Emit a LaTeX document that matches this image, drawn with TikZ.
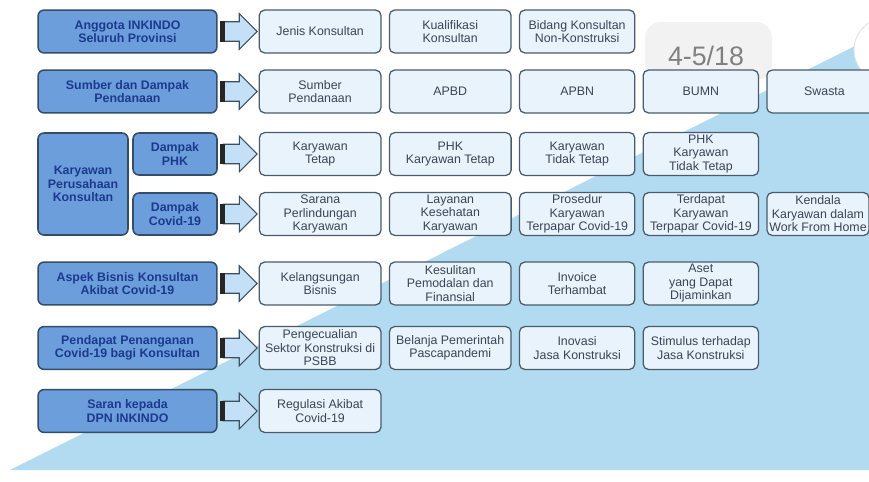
\documentclass[tikz,border=0pt]{standalone}
\usepackage{fontspec}
\setmainfont{Liberation Sans}
\usetikzlibrary{positioning, shapes.arrows}

\definecolor{latar}{RGB}{178,218,240}
\definecolor{isiinduk}{RGB}{108,158,220}
\definecolor{garisinduk}{RGB}{52,78,104}
\definecolor{teksinduk}{RGB}{28,58,140}
\definecolor{isibutir}{RGB}{233,243,251}
\definecolor{garisbutir}{RGB}{74,92,108}
\definecolor{teksbutir}{RGB}{58,68,84}
\definecolor{isipanah}{RGB}{196,224,246}
\definecolor{garispanah}{RGB}{62,80,98}
\definecolor{abu}{RGB}{128,128,128}
\definecolor{abumuda}{RGB}{242,242,242}

\begin{document}
\begin{tikzpicture}[x=0.025cm, y=-0.025cm, node distance=0.18cm,
  induk/.style={draw=garisinduk, line width=1.1pt, fill=isiinduk, rounded corners=0.15cm,
    align=center, text=teksinduk, font=\fontsize{8.8}{9.6}\selectfont\bfseries,
    minimum width=4.47cm, minimum height=1.07cm, inner sep=1pt},
  kecil/.style={induk, minimum width=2.1cm, minimum height=1.05cm},
  butir/.style={draw=garisbutir, line width=0.9pt, fill=isibutir, rounded corners=0.13cm,
    align=center, text=teksbutir, font=\fontsize{8.8}{9.6}\selectfont,
    minimum width=2.88cm, minimum height=1.07cm, inner sep=1pt},
  lebar/.style={minimum width=3.04cm},
  panah/.style={single arrow, draw=garispanah, fill=isipanah, line width=0.8pt,
    single arrow head extend=0.2cm, minimum height=0.85cm, inner xsep=0pt, inner ysep=0.23cm},
  ekor/.style={line width=3.2pt, black!85}]

\useasboundingbox (0,0) rectangle (869,481);
\fill[white] (0,0) rectangle (869,481);
\fill[latar] (10,470) -- (869,39) -- (869,470) -- cycle;
\fill[abumuda] (645,22) [rounded corners=0.4cm] rectangle (772,80);
\filldraw[fill=white, draw=black!12, line width=0.6pt] (886,50) circle (0.8cm);

\node[induk] (anggota) at (127.5,31.5) {Anggota INKINDO\\Seluruh Provinsi};
\node[induk] (sumber) at (127.5,91.5) {Sumber dan Dampak\\Pendanaan};
\node[induk, minimum width=2.25cm, minimum height=2.55cm] (karyawan) at (83,184) {Karyawan\\Perusahaan\\Konsultan};
\node[kecil] (phk) at (175,154) {Dampak\\PHK};
\node[kecil] (covid) at (175,214) {Dampak\\Covid-19};
\node[induk] (aspek) at (127.5,283.5) {Aspek Bisnis Konsultan\\Akibat Covid-19};
\node[induk] (pendapat) at (127.5,348) {Pendapat Penanganan\\Covid-19 bagi Konsultan};
\node[induk] (saran) at (127.5,411) {Saran kepada\\DPN INKINDO};

\node[panah, right=0.12cm of anggota] (ar1) {};
\node[panah, right=0.12cm of sumber] (ar2) {};
\node[panah, right=0.12cm of phk] (ar3) {};
\node[panah, right=0.12cm of covid] (ar4) {};
\node[panah, right=0.12cm of aspek] (ar5) {};
\node[panah, right=0.12cm of pendapat] (ar6) {};
\node[panah, right=0.12cm of saran] (ar7) {};
\foreach \p in {ar1,ar2,ar3,ar4,ar5,ar6,ar7}
  \draw[ekor] (\p.before tail) -- (\p.after tail);

\node[butir, lebar, right=0.02cm of ar1] (r11) {Jenis Konsultan};
\node[butir, lebar, right=of r11] (r12) {Kualifikasi\\Konsultan};
\node[butir, right=of r12] (r13) {Bidang Konsultan\\Non-Konstruksi};

\node[butir, lebar, right=0.02cm of ar2] (r21) {Sumber\\Pendanaan};
\node[butir, lebar, right=of r21] (r22) {APBD};
\node[butir, right=of r22] (r23) {APBN};
\node[butir, right=of r23] (r24) {BUMN};
\node[butir, right=of r24] (r25) {Swasta};

\node[butir, lebar, right=0.02cm of ar3] (r31) {Karyawan\\Tetap};
\node[butir, lebar, right=of r31] (r32) {PHK\\Karyawan Tetap};
\node[butir, right=of r32] (r33) {Karyawan\\Tidak Tetap};
\node[butir, right=of r33] (r34) {PHK\\Karyawan\\Tidak Tetap};

\node[butir, lebar, right=0.02cm of ar4] (r41) {Sarana\\Perlindungan\\Karyawan};
\node[butir, lebar, right=of r41] (r42) {Layanan\\Kesehatan\\Karyawan};
\node[butir, right=of r42] (r43) {Prosedur\\Karyawan\\Terpapar Covid-19};
\node[butir, right=of r43] (r44) {Terdapat\\Karyawan\\Terpapar Covid-19};
\node[butir, minimum width=2.55cm, right=of r44] (r45) {Kendala\\Karyawan dalam\\Work From Home};

\node[butir, lebar, right=0.02cm of ar5] (r51) {Kelangsungan\\Bisnis};
\node[butir, lebar, right=of r51] (r52) {Kesulitan\\Pemodalan dan\\Finansial};
\node[butir, right=of r52] (r53) {Invoice\\Terhambat};
\node[butir, right=of r53] (r54) {Aset\\yang Dapat\\Dijaminkan};

\node[butir, lebar, right=0.02cm of ar6] (r61) {Pengecualian\\Sektor Konstruksi di\\PSBB};
\node[butir, lebar, right=of r61] (r62) {Belanja Pemerintah\\Pascapandemi};
\node[butir, right=of r62] (r63) {Inovasi\\Jasa Konstruksi};
\node[butir, right=of r63] (r64) {Stimulus terhadap\\Jasa Konstruksi};

\node[butir, lebar, right=0.02cm of ar7] (r71) {Regulasi Akibat\\Covid-19};

\node[text=abu, font=\fontsize{19}{19}\selectfont] (hal) at (706,56) {4-5/18};
\end{tikzpicture}
\end{document}
